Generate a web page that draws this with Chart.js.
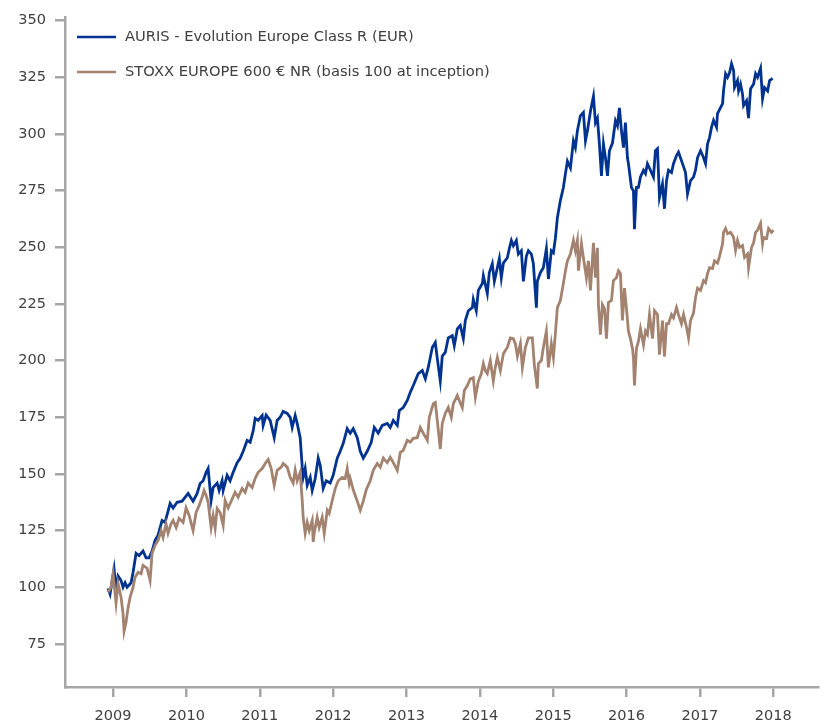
<!DOCTYPE html>
<html>
<head>
<meta charset="utf-8">
<script src="https://cdn.jsdelivr.net/npm/chart.js@4/dist/chart.umd.min.js"></script>
<style>
html,body{margin:0;padding:0;background:#fff;}
#wrap{width:824px;height:724px;position:relative;}
</style>
</head>
<body>
<div id="wrap"><canvas id="c" width="824" height="724"></canvas></div>
<script>
const seriesNames = ["AURIS - Evolution Europe Class R (EUR)", "STOXX EUROPE 600 \u20ac NR (basis 100 at inception)"];
const yTicks = [75,100,125,150,175,200,225,250,275,300,325,350];
const xTicks = [2009,2010,2011,2012,2013,2014,2015,2016,2017,2018];

const aurisDates = [2008.932,2008.959,2009.014,2009.041,2009.068,2009.109,2009.136,2009.164,2009.191,2009.246,2009.273,2009.314,2009.355,2009.409,2009.450,2009.491,2009.532,2009.573,2009.614,2009.668,2009.709,2009.778,2009.819,2009.873,2009.941,2009.982,2010.023,2010.091,2010.146,2010.187,2010.228,2010.269,2010.296,2010.337,2010.364,2010.419,2010.446,2010.487,2010.501,2010.555,2010.596,2010.637,2010.692,2010.733,2010.774,2010.828,2010.869,2010.910,2010.937,2010.978,2011.033,2011.046,2011.087,2011.142,2011.197,2011.237,2011.278,2011.319,2011.374,2011.415,2011.442,2011.483,2011.510,2011.551,2011.579,2011.592,2011.619,2011.647,2011.688,2011.715,2011.756,2011.797,2011.824,2011.865,2011.906,2011.960,2012.001,2012.056,2012.097,2012.138,2012.192,2012.233,2012.274,2012.329,2012.370,2012.411,2012.465,2012.520,2012.561,2012.615,2012.670,2012.738,2012.779,2012.820,2012.875,2012.902,2012.956,2013.011,2013.052,2013.093,2013.161,2013.216,2013.257,2013.297,2013.352,2013.393,2013.420,2013.461,2013.488,2013.529,2013.570,2013.625,2013.652,2013.693,2013.734,2013.775,2013.802,2013.843,2013.898,2013.911,2013.952,2013.980,2014.034,2014.048,2014.102,2014.129,2014.170,2014.198,2014.239,2014.266,2014.293,2014.321,2014.375,2014.402,2014.430,2014.457,2014.498,2014.525,2014.566,2014.594,2014.634,2014.662,2014.703,2014.730,2014.771,2014.784,2014.825,2014.866,2014.907,2014.935,2014.975,2015.003,2015.030,2015.057,2015.098,2015.139,2015.167,2015.194,2015.235,2015.276,2015.303,2015.330,2015.371,2015.412,2015.440,2015.467,2015.508,2015.549,2015.576,2015.603,2015.630,2015.658,2015.685,2015.712,2015.740,2015.767,2015.808,2015.849,2015.876,2015.903,2015.931,2015.958,2015.985,2016.012,2016.026,2016.067,2016.094,2016.108,2016.135,2016.162,2016.190,2016.231,2016.258,2016.285,2016.326,2016.367,2016.394,2016.422,2016.449,2016.490,2016.517,2016.545,2016.572,2016.613,2016.640,2016.681,2016.708,2016.763,2016.804,2016.831,2016.872,2016.913,2016.940,2016.968,2017.009,2017.049,2017.077,2017.104,2017.131,2017.159,2017.186,2017.227,2017.240,2017.281,2017.309,2017.322,2017.350,2017.377,2017.404,2017.431,2017.459,2017.472,2017.513,2017.527,2017.554,2017.581,2017.595,2017.636,2017.663,2017.691,2017.732,2017.759,2017.786,2017.827,2017.854,2017.882,2017.923,2017.950,2017.991];
const aurisValues = [99.5,97,108,98.7,105,103,100,102,100,102,106.6,115,114,116,113,113,116,120.7,123,129.5,128.6,137,135,137.5,138,139.7,141.4,138,141.4,145.8,147,150.7,152.4,138.3,144,146,142.7,147,142.7,149.4,147,150.7,155,156.9,160,164.8,164,169,174.5,173.6,175.8,171.4,176,173.6,166,173.6,175,177.6,176.7,175,170.5,175.8,172.3,166,153,148.5,152.4,145,148.5,142.7,148,157,153.8,143.6,147,146,149.4,157,160,163.5,170,168,170,166,160,157,160,164,170.5,168,171.4,172.3,170.5,173.6,171.4,178,179.3,182.4,186,189,194.3,195.6,192,197,205.8,208,201,191,202,203.6,210,211,206.6,214,215.5,209.7,217.7,222,223.4,227,222,231,234,237.5,229.6,238.8,242.8,235,241,245,236.6,243,245.4,249.4,253,250.7,253,247,248.5,235,246,248.5,247,242.8,223.4,235,238.8,241,249.4,236,248.5,247.6,254,263,270.6,276.4,282.5,288,285,297,294,301.4,308,309.5,297,301.4,310,316.6,305,307,295.6,281.5,295.6,289.6,281.5,292.6,296,305.8,303.6,311.5,301.4,294,305,289.6,286.9,276.4,275,258,276.4,276.4,281,284,282.5,286.9,284,281,292.6,293.5,272,278,267,279.4,284,283,286.9,290.5,292,286.9,283,273.6,279.4,281,284,289.6,292.6,289.6,286.9,295.6,298.4,303,306,303,309,311.6,313.4,319,326.6,325,327,331,328,320.5,323.6,319,322,317.6,312.5,314.7,307,320,322,326.6,325,329,315.6,320.5,319,323.6,324.5];

const stoxxDates = [2008.932,2008.973,2009.000,2009.041,2009.068,2009.109,2009.136,2009.150,2009.177,2009.205,2009.232,2009.273,2009.300,2009.341,2009.382,2009.409,2009.464,2009.505,2009.532,2009.573,2009.614,2009.655,2009.682,2009.723,2009.750,2009.791,2009.819,2009.860,2009.900,2009.955,2009.996,2010.037,2010.091,2010.132,2010.173,2010.214,2010.241,2010.269,2010.296,2010.337,2010.364,2010.392,2010.419,2010.460,2010.501,2010.528,2010.569,2010.624,2010.664,2010.705,2010.760,2010.801,2010.842,2010.896,2010.937,2010.978,2011.033,2011.074,2011.115,2011.156,2011.197,2011.237,2011.292,2011.319,2011.374,2011.415,2011.456,2011.483,2011.510,2011.551,2011.579,2011.592,2011.619,2011.647,2011.674,2011.715,2011.729,2011.742,2011.783,2011.810,2011.851,2011.879,2011.920,2011.947,2011.988,2012.029,2012.070,2012.124,2012.165,2012.192,2012.220,2012.233,2012.274,2012.329,2012.370,2012.411,2012.452,2012.506,2012.547,2012.602,2012.643,2012.684,2012.738,2012.779,2012.820,2012.875,2012.916,2012.956,2013.011,2013.052,2013.093,2013.147,2013.188,2013.229,2013.284,2013.311,2013.366,2013.393,2013.420,2013.461,2013.488,2013.529,2013.570,2013.611,2013.639,2013.693,2013.720,2013.761,2013.789,2013.830,2013.870,2013.911,2013.939,2013.980,2014.021,2014.048,2014.075,2014.102,2014.143,2014.184,2014.211,2014.239,2014.280,2014.321,2014.348,2014.375,2014.416,2014.457,2014.484,2014.512,2014.553,2014.580,2014.621,2014.662,2014.716,2014.744,2014.784,2014.798,2014.839,2014.866,2014.907,2014.935,2014.975,2015.003,2015.030,2015.057,2015.098,2015.139,2015.167,2015.194,2015.235,2015.276,2015.303,2015.330,2015.344,2015.385,2015.412,2015.453,2015.480,2015.508,2015.549,2015.576,2015.603,2015.617,2015.644,2015.671,2015.699,2015.726,2015.753,2015.794,2015.821,2015.862,2015.890,2015.917,2015.944,2015.972,2015.999,2016.026,2016.053,2016.081,2016.094,2016.108,2016.135,2016.162,2016.190,2016.231,2016.258,2016.285,2016.313,2016.354,2016.381,2016.422,2016.449,2016.490,2016.517,2016.545,2016.572,2016.613,2016.640,2016.681,2016.708,2016.749,2016.777,2016.818,2016.845,2016.872,2016.913,2016.940,2016.968,2017.009,2017.049,2017.077,2017.104,2017.131,2017.172,2017.199,2017.240,2017.268,2017.309,2017.322,2017.350,2017.377,2017.418,2017.459,2017.486,2017.513,2017.540,2017.581,2017.609,2017.650,2017.663,2017.704,2017.732,2017.759,2017.786,2017.827,2017.854,2017.868,2017.909,2017.936,2017.977,2018.004];
const stoxxValues = [97.8,100,106,93,101.8,95.6,88.5,80.6,84.6,91,95.6,100,104.4,106.6,106,109.7,108.4,103,115,118.5,120.7,125,122,128,123.8,128,129.5,126.4,130.4,128.6,135,131.7,125,133,136,139.7,142.7,140.5,137.5,126.4,131.7,126,134.8,133,127.3,138.3,135,139,141.9,139.7,143.6,141.9,146,144,148,150.7,152.4,154.6,156.4,152.4,145,151.6,153,154.6,153,148.5,146,151.6,147,150.7,138.3,130.8,123.8,128.6,125,129.5,120,123.8,130.8,126.4,130.8,123.8,134,132.6,138.3,143.6,147,148.5,148,152.4,146,148,143,138,134,138,143,147,151.6,154.6,153,157,155,157.3,155,151.6,159.5,160.4,164.8,164,165.7,166,170.5,168,164.8,175,181,181.5,173.6,161,172.3,176.7,179.3,175,181,184.6,182.4,179.3,186.8,189,192,192.5,183.7,191,194.3,198.7,195.6,194.3,200,191,197,201.4,195.6,203,204.5,205.8,210,209.7,207.5,202,207.5,197,205.8,210,210,197.8,187.7,198.7,200,205.8,213,197,207.5,201.4,212,223.4,226.5,234,239.7,244,247,253,248.5,253,239.7,251.6,245.4,236.6,244,231,252,236.6,249.8,224.7,211.5,224.7,222.9,209.7,225.6,226.5,235.3,236.6,239.7,238.4,217.7,232,223,213,209.7,205.4,201.4,189,205.4,208.5,214,207,213,211.5,220.3,209.7,222,220.3,202.6,217.7,201.8,216.3,216.3,220.3,218.9,223.4,220.3,216.3,220.3,214.6,210,217.7,221,227.8,232,231,235.3,234.4,238.4,241,240.6,244,243,246,251.6,256.6,258.3,256,256.6,254.4,248.6,253,250,250.8,245.5,247,241,250,252,256.6,257.5,260.6,251.6,254.4,253.9,258.3,256.6,257.5];

const blue = '#00338F';
const brown = '#A3826F';
const axisGrey = '#A6A6A6';
const textGrey = '#404040';
const fontFamily = 'DejaVu Sans';

function pts(xs, ys){ return xs.map((x,i)=>({x:x, y:ys[i]})); }

const legendPlugin = {
  id: 'insideLegend',
  afterDraw(chart){
    const ctx = chart.ctx;
    const items = chart.data.datasets;
    const ys = [37, 72];
    ctx.save();
    ctx.font = '14.7px "' + fontFamily + '"';
    ctx.textBaseline = 'middle';
    ctx.textAlign = 'left';
    items.forEach((ds, i) => {
      ctx.strokeStyle = ds.borderColor;
      ctx.lineWidth = 2.5;
      ctx.beginPath();
      ctx.moveTo(77, ys[i]);
      ctx.lineTo(116, ys[i]);
      ctx.stroke();
      ctx.fillStyle = textGrey;
      ctx.fillText(ds.label, 125, ys[i]);
    });
    ctx.restore();
  }
};

new Chart(document.getElementById('c'), {
  type: 'line',
  data: {
    datasets: [
      { label: seriesNames[0], data: pts(aurisDates, aurisValues), borderColor: blue, backgroundColor: blue, borderWidth: 2.8, pointRadius: 0, tension: 0, order: 2 },
      { label: seriesNames[1], data: pts(stoxxDates, stoxxValues), borderColor: brown, backgroundColor: brown, borderWidth: 2.8, pointRadius: 0, tension: 0, order: 1 }
    ]
  },
  options: {
    responsive: false,
    animation: false,
    events: [],
    layout: { padding: { top: 17, right: 6, left: 0, bottom: 0 } },
    plugins: { legend: { display: false }, tooltip: { enabled: false } },
    scales: {
      x: {
        type: 'linear',
        min: 2008.345,
        max: 2018.61,
        afterBuildTicks: (axis) => { axis.ticks = xTicks.map(v => ({ value: v })); },
        afterFit: (axis) => { axis.height = 37; },
        border: { display: true, color: axisGrey, width: 2.5 },
        grid: { display: true, drawOnChartArea: false, drawTicks: true, tickLength: 10, color: axisGrey, lineWidth: 2.5 },
        ticks: { color: textGrey, padding: 11, font: { family: fontFamily, size: 14.5 }, maxRotation: 0, autoSkip: false, callback: (v) => String(v) }
      },
      y: {
        type: 'linear',
        min: 56,
        max: 351.3,
        afterBuildTicks: (axis) => { axis.ticks = yTicks.map(v => ({ value: v })); },
        afterFit: (axis) => { axis.width = 65; },
        border: { display: true, color: axisGrey, width: 2.5 },
        grid: { display: true, drawOnChartArea: false, drawTicks: true, tickLength: 10, color: axisGrey, lineWidth: 2.5 },
        ticks: { color: textGrey, padding: 9, font: { family: fontFamily, size: 14.5 }, autoSkip: false, callback: (v) => String(v) }
      }
    }
  },
  plugins: [legendPlugin]
});
</script>
</body>
</html>
